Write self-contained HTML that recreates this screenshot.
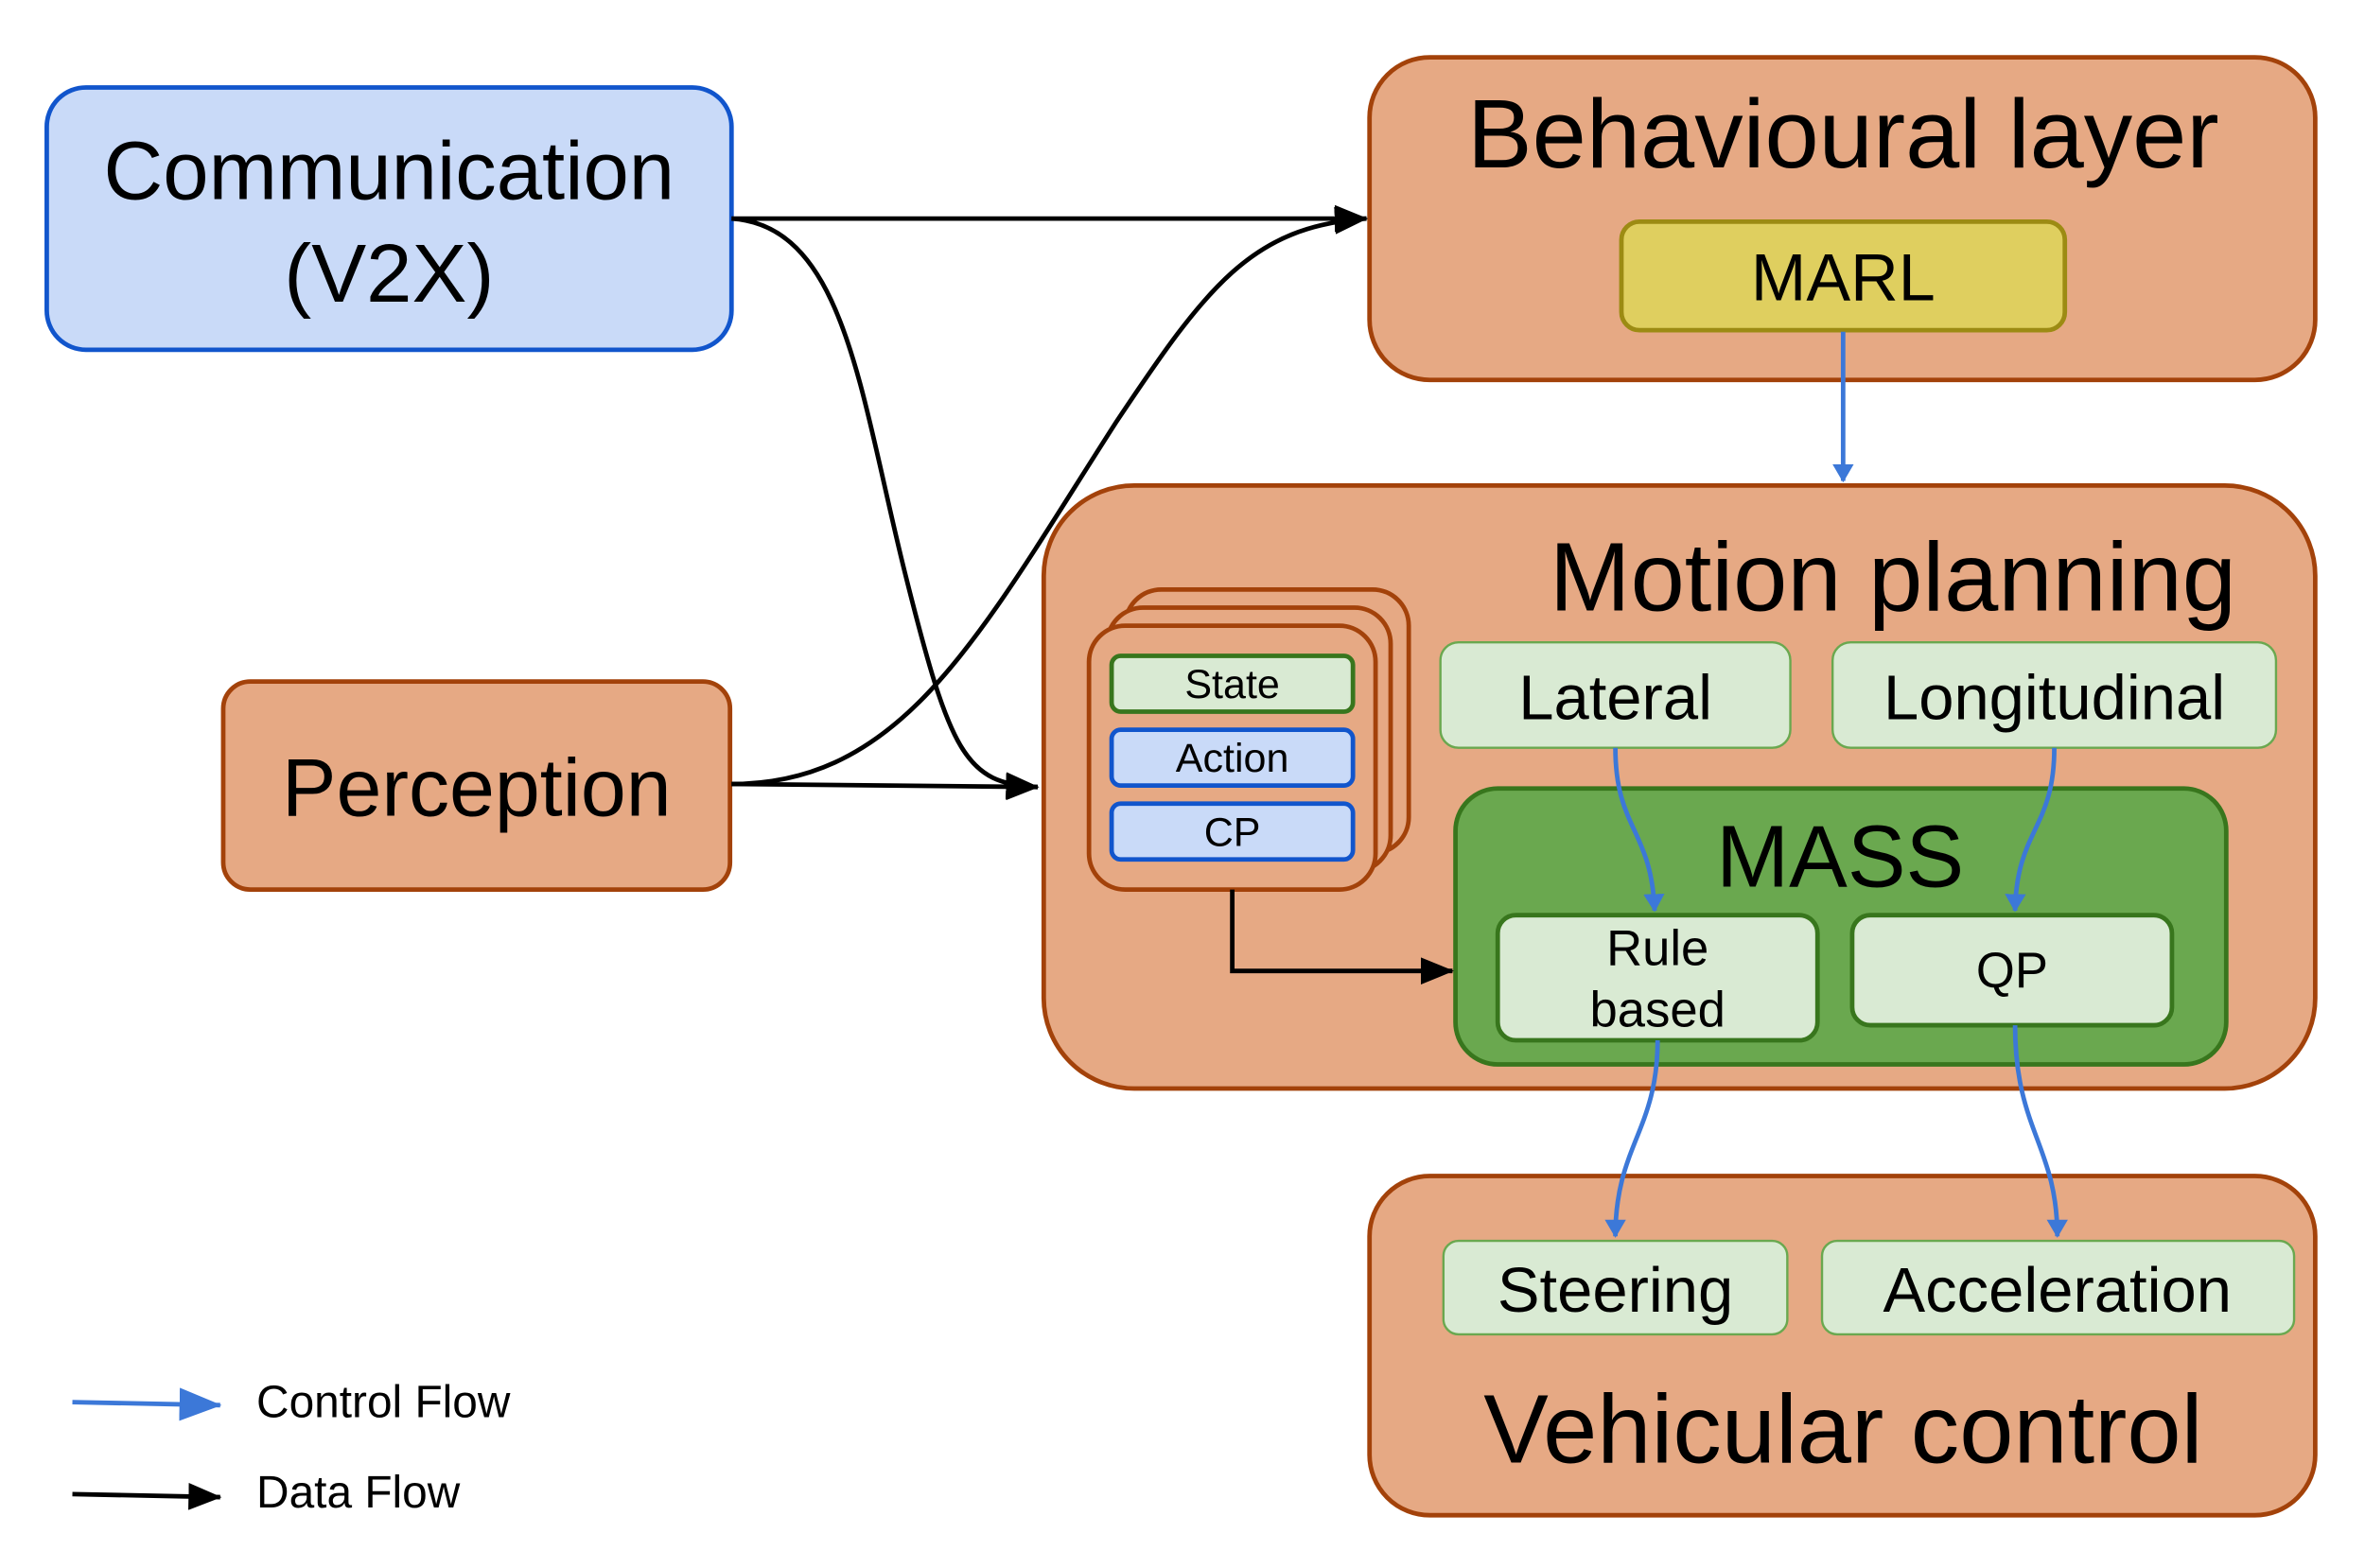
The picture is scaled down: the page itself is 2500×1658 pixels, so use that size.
<!DOCTYPE html>
<html><head><meta charset="utf-8"><style>html,body{margin:0;padding:0;background:#fff}svg{display:block}</style></head><body>
<svg width="2500" height="1658" viewBox="0 0 1568 1040" preserveAspectRatio="none" xmlns="http://www.w3.org/2000/svg" font-family="Liberation Sans, Arial, sans-serif">
<defs>
<marker id="abb" markerWidth="22" markerHeight="18" refX="21" refY="9" orient="auto" markerUnits="userSpaceOnUse" viewBox="0 0 22 18"><path d="M0,0 L22,9 L0,18 z" fill="#000"/></marker>
<marker id="ablue" markerWidth="12" markerHeight="22" refX="11" refY="11" orient="auto" markerUnits="userSpaceOnUse" viewBox="0 0 12 22"><path d="M0,4 L12,11 L0,18 z" fill="#3c78d8"/></marker>
<marker id="ablueL" markerWidth="28" markerHeight="22" refX="27" refY="11" orient="auto" markerUnits="userSpaceOnUse" viewBox="0 0 28 22"><path d="M0,0 L28,11 L0,22 z" fill="#3c78d8"/></marker>
</defs>
<rect x="31" y="58" width="454" height="174" rx="26" fill="#c9daf8" stroke="#1155cc" stroke-width="3"/>
<text x="258" y="132" font-size="54.5" text-anchor="middle">Communication</text>
<text x="258" y="200" font-size="54.5" text-anchor="middle">(V2X)</text>
<rect x="148" y="452" width="336" height="138" rx="18" fill="#e6a984" stroke="#a3420a" stroke-width="3"/>
<text x="316" y="541" font-size="54" text-anchor="middle">Perception</text>
<rect x="908" y="38" width="627" height="214" rx="40" fill="#e6a984" stroke="#a3420a" stroke-width="3"/>
<text x="1222" y="111" font-size="64.5" text-anchor="middle">Behavioural layer</text>
<rect x="1075" y="147" width="294" height="72" rx="12" fill="#dfcf5f" stroke="#9c8b13" stroke-width="3"/>
<text x="1222" y="199" font-size="44" text-anchor="middle">MARL</text>
<rect x="692" y="322" width="843" height="400" rx="60" fill="#e6a984" stroke="#a3420a" stroke-width="3"/>
<text x="1255" y="405" font-size="64.5" text-anchor="middle">Motion planning</text>
<rect x="746" y="391" width="188" height="175" rx="24" fill="#e6a984" stroke="#a3420a" stroke-width="3"/>
<rect x="734" y="403" width="188" height="175" rx="24" fill="#e6a984" stroke="#a3420a" stroke-width="3"/>
<rect x="722" y="415" width="190" height="175" rx="24" fill="#e6a984" stroke="#a3420a" stroke-width="3"/>
<rect x="737" y="435" width="160" height="37" rx="6" fill="#d9ead3" stroke="#38761d" stroke-width="3"/>
<text x="817" y="463" font-size="27" text-anchor="middle">State</text>
<rect x="737" y="484" width="160" height="37" rx="6" fill="#c9daf8" stroke="#1155cc" stroke-width="3"/>
<text x="817" y="512" font-size="27" text-anchor="middle">Action</text>
<rect x="737" y="533" width="160" height="37" rx="6" fill="#c9daf8" stroke="#1155cc" stroke-width="3"/>
<text x="817" y="561" font-size="27" text-anchor="middle">CP</text>
<rect x="955" y="426" width="232" height="70" rx="12" fill="#d9ead3" stroke="#6aa84f" stroke-width="1.5"/>
<text x="1071" y="477" font-size="42" text-anchor="middle">Lateral</text>
<rect x="1215" y="426" width="294" height="70" rx="12" fill="#d9ead3" stroke="#6aa84f" stroke-width="1.5"/>
<text x="1362" y="477" font-size="42" text-anchor="middle">Longitudinal</text>
<rect x="965" y="523" width="511" height="183" rx="28" fill="#6aa84f" stroke="#38761d" stroke-width="3"/>
<text x="1220" y="588" font-size="58" text-anchor="middle">MASS</text>
<rect x="993" y="607" width="212" height="83" rx="12" fill="#d9ead3" stroke="#38761d" stroke-width="3"/>
<text x="1099" y="640" font-size="33" text-anchor="middle">Rule</text>
<text x="1099" y="681" font-size="33" text-anchor="middle">based</text>
<rect x="1228" y="607" width="212" height="73" rx="12" fill="#d9ead3" stroke="#38761d" stroke-width="3"/>
<text x="1334" y="655" font-size="33" text-anchor="middle">QP</text>
<rect x="908" y="780" width="627" height="225" rx="40" fill="#e6a984" stroke="#a3420a" stroke-width="3"/>
<rect x="957" y="823" width="228" height="62" rx="10" fill="#d9ead3" stroke="#6aa84f" stroke-width="1.5"/>
<text x="1071" y="870" font-size="42" text-anchor="middle">Steering</text>
<rect x="1208" y="823" width="313" height="62" rx="10" fill="#d9ead3" stroke="#6aa84f" stroke-width="1.5"/>
<text x="1364" y="870" font-size="42" text-anchor="middle">Acceleration</text>
<text x="1222" y="970" font-size="64.5" text-anchor="middle">Vehicular control</text>
<g fill="none" stroke="#000" stroke-width="3">
<path d="M485,145 L906,145" marker-end="url(#abb)"/>
<path d="M485,145 C560,150 570,260 600,380 C630,500 640,520 688,522" marker-end="url(#abb)"/>
<path d="M485,520 L688,522" marker-end="url(#abb)"/>
<path d="M485,520 C600,520 650,420 740,280 C800,190 830,150 906,145" marker-end="url(#abb)"/>
<path d="M817,590 L817,644 L963,644" marker-end="url(#abb)"/>
</g>
<g fill="none" stroke="#3c78d8" stroke-width="3">
<path d="M1222,220 L1222,319" marker-end="url(#ablue)"/>
<path d="M1071,496 C1071,550 1095,550 1097,604" marker-end="url(#ablue)"/>
<path d="M1362,496 C1362,550 1337,550 1336,604" marker-end="url(#ablue)"/>
<path d="M1099,690 C1099,750 1071,760 1071,820" marker-end="url(#ablue)"/>
<path d="M1336,680 C1336,750 1364,760 1364,820" marker-end="url(#ablue)"/>
<path d="M48,930 L146,932" marker-end="url(#ablueL)"/>
</g>
<path d="M48,991 L146,993" fill="none" stroke="#000" stroke-width="3" marker-end="url(#abb)"/>
<text x="170" y="940" font-size="30">Control Flow</text>
<text x="170" y="1000" font-size="30">Data Flow</text>
</svg>
</body></html>
